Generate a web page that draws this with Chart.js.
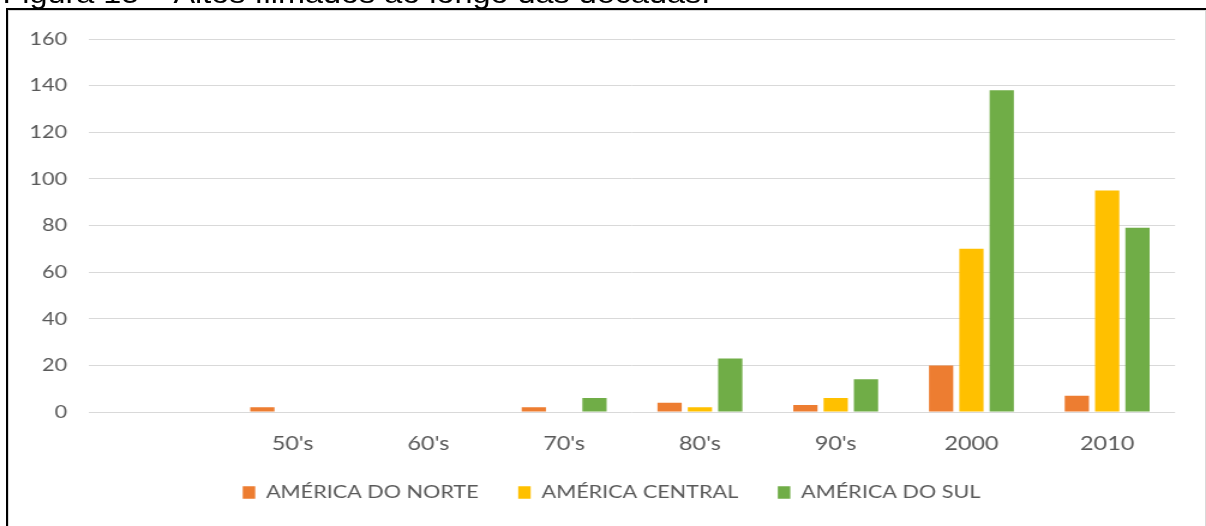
<!DOCTYPE html>
<html><head><meta charset="utf-8">
<script src="https://cdn.jsdelivr.net/npm/chart.js@4.4.1/dist/chart.umd.min.js"></script>
<style>
html,body{margin:0;padding:0;background:#fff;width:1206px;height:526px;overflow:hidden;}
#stretch{position:absolute;left:0;top:0;width:1005px;height:526px;transform:scaleX(1.2);transform-origin:0 0;}
#chart{position:absolute;left:0;top:0;}
#title{position:absolute;left:2px;top:-19px;font-family:"Liberation Sans",Arial,sans-serif;font-size:27px;line-height:1;white-space:nowrap;color:#000;}
.bl{position:absolute;background:#000;}
.gl{position:absolute;background:#d9d9d9;}
</style></head><body>
<div id="stretch">
 <canvas id="chart" width="1005" height="526"></canvas>
 <div id="title">Figura 15 – Altos filmados ao longo das décadas.</div>
</div>
<div class="gl" style="left:8px;top:10px;width:1198px;height:1px"></div>
<div class="gl" style="left:8px;top:10px;width:1px;height:516px"></div>
<div class="gl" style="left:1205px;top:10px;width:1px;height:516px"></div>
<div class="bl" style="left:6px;top:8px;width:2px;height:518px"></div>
<div class="bl" style="left:6px;top:8px;width:1200px;height:2px"></div>
<script>
const categories = ['', "50's", "60's", "70's", "80's", "90's", '2000', '2010'];
const seriesNames = ['AMÉRICA DO NORTE', 'AMÉRICA CENTRAL', 'AMÉRICA DO SUL'];
const americaDoNorte = [null, 2, 0, 2, 4, 3, 20, 7];
const americaCentral = [null, 0, 0, 0, 2, 6, 70, 95];
const americaDoSul   = [null, 0, 0, 6, 23, 14, 138, 79];
const yTicks = { min: 0, max: 160, step: 20 };
const colors = ['#ED7D31', '#FFC000', '#70AD47'];

const font = { family: 'Lato', size: 18 };
const xFont = { family: 'Lato', size: 19.5 };
const textColor = '#595959';

const legendNudge = {
  id: 'legendNudge',
  afterLayout(chart) {
    const l = chart.legend;
    if (!l) return;
    l.left += 16; l.right += 16;
    l.top -= 3.5; l.bottom -= 3.5;
  }
};

new Chart(document.getElementById('chart'), {
  type: 'bar',
  data: {
    labels: categories,
    datasets: [
      { label: seriesNames[0], data: americaDoNorte, backgroundColor: colors[0] },
      { label: seriesNames[1], data: americaCentral, backgroundColor: colors[1] },
      { label: seriesNames[2], data: americaDoSul, backgroundColor: colors[2] }
    ]
  },
  plugins: [legendNudge],
  options: {
    responsive: false,
    animation: false,
    devicePixelRatio: 1,
    layout: { padding: { left: 8, top: 39, right: 25.8, bottom: 11 } },
    datasets: { bar: { categoryPercentage: 0.67, barPercentage: 0.8 } },
    plugins: {
      legend: {
        position: 'bottom',
        labels: { boxWidth: 10.4, boxHeight: 12.5, padding: 33, color: textColor, font: font }
      },
      tooltip: { enabled: false }
    },
    scales: {
      x: {
        grid: { display: false },
        border: { display: false },
        ticks: { color: textColor, font: xFont, padding: 12, maxRotation: 0, autoSkip: false },
        afterFit(s) { s.height = 42; }
      },
      y: {
        min: yTicks.min, max: yTicks.max,
        ticks: { stepSize: yTicks.step, padding: 18.3, color: textColor, font: font },
        grid: { color: '#d9d9d9', drawTicks: false },
        border: { display: false },
        afterFit(s) { s.width = 66.17; }
      }
    }
  }
});
</script>
</body></html>
